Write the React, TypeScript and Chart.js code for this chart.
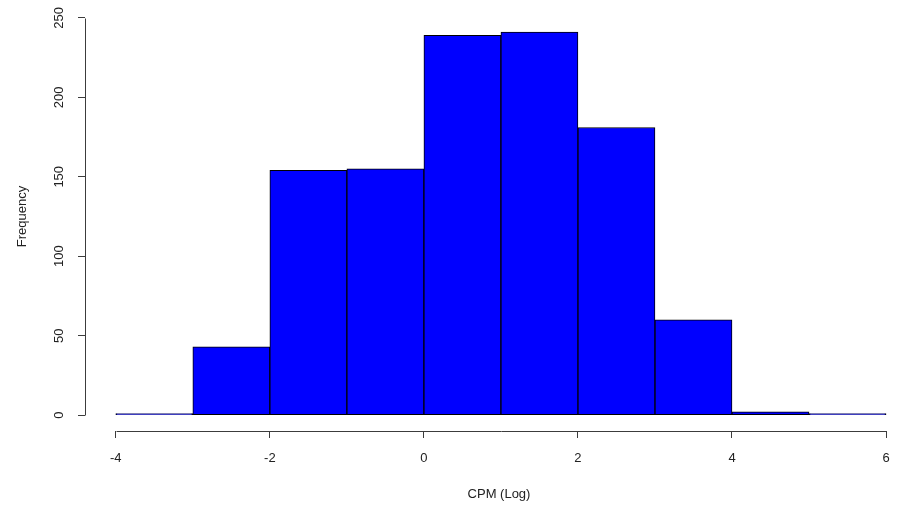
import React, { useEffect, useRef } from 'react';
import { Chart, registerables } from 'chart.js';

Chart.register(...registerables);

// Histogram data (bins of width 1 from -4 to 6)
const binStarts = [-4, -3, -2, -1, 0, 1, 2, 3, 4, 5];
const binWidth = 1;
const frequencies = [1, 43, 154, 155, 239, 241, 181, 60, 2, 1];
const xTickValues = [-4, -2, 0, 2, 4, 6];
const yTickValues = [0, 50, 100, 150, 200, 250];
const xTitle = 'CPM (Log)';
const yTitle = 'Frequency';

const axisColor = '#3c3c3c';
const textColor = '#222222';
const fontFamily = '"Liberation Sans", Arial, sans-serif';

const rAxesPlugin = {
  id: 'rAxes',
  afterDraw(chart: any) {
    const { ctx, chartArea, scales } = chart;
    const xs = scales.x;
    const ys = scales.y;
    ctx.save();
    ctx.strokeStyle = axisColor;
    ctx.lineWidth = 1;
    ctx.beginPath();
    const yb = Math.round(chartArea.bottom) + 0.5;
    ctx.moveTo(Math.round(xs.getPixelForValue(xTickValues[0])) + 0.5, yb);
    ctx.lineTo(Math.round(xs.getPixelForValue(xTickValues[xTickValues.length - 1])) + 0.5, yb);
    const xl = Math.round(chartArea.left) + 0.5;
    ctx.moveTo(xl, Math.round(ys.getPixelForValue(yTickValues[0])) + 0.5);
    ctx.lineTo(xl, Math.round(ys.getPixelForValue(yTickValues[yTickValues.length - 1])) + 0.5);
    ctx.stroke();
    ctx.restore();
  },
};

export default function App() {
  const canvasRef = useRef<HTMLCanvasElement | null>(null);

  useEffect(() => {
    if (!canvasRef.current) return;
    const data = binStarts.map((s, i) => ({ x: s + binWidth / 2, y: frequencies[i] }));
    const chart = new Chart(canvasRef.current, {
      type: 'bar',
      data: {
        datasets: [
          {
            data: data as any,
            backgroundColor: '#0000ff',
            borderColor: '#000000',
            borderWidth: 1,
            borderSkipped: false,
            categoryPercentage: 1,
            barPercentage: 1,
          },
        ],
      },
      plugins: [rAxesPlugin],
      options: {
        animation: false,
        responsive: true,
        maintainAspectRatio: false,
        devicePixelRatio: 1,
        layout: { padding: { top: 2, left: 0, right: 0, bottom: 0 } },
        plugins: {
          legend: { display: false },
          tooltip: { enabled: false },
        },
        scales: {
          x: {
            type: 'linear',
            min: -4.4,
            max: 6.35,
            offset: false,
            afterBuildTicks: (scale: any) => {
              scale.ticks = xTickValues.map((v) => ({ value: v }));
            },
            afterFit: (scale: any) => {
              scale.height = 74;
              scale.paddingLeft = 0;
              scale.paddingRight = 0;
              scale.paddingTop = 0;
              scale.paddingBottom = 0;
            },
            border: { display: false },
            grid: {
              offset: false,
              drawOnChartArea: false,
              drawTicks: true,
              tickLength: 7,
              color: axisColor,
            },
            ticks: {
              autoSkip: false,
              maxRotation: 0,
              minRotation: 0,
              padding: 13,
              color: textColor,
              font: { family: fontFamily, size: 13 },
            },
            title: {
              display: true,
              text: xTitle,
              color: textColor,
              font: { family: fontFamily, size: 13 },
              padding: { top: 0, bottom: 3 },
            },
          },
          y: {
            type: 'linear',
            min: -10,
            max: 260,
            afterBuildTicks: (scale: any) => {
              scale.ticks = yTickValues.map((v) => ({ value: v }));
            },
            afterFit: (scale: any) => {
              scale.width = 85;
              scale.paddingLeft = 0;
              scale.paddingRight = 0;
              scale.paddingTop = 0;
              scale.paddingBottom = 0;
            },
            border: { display: false },
            grid: {
              drawOnChartArea: false,
              drawTicks: true,
              tickLength: 7,
              color: axisColor,
            },
            ticks: {
              autoSkip: false,
              minRotation: 90,
              maxRotation: 90,
              crossAlign: 'center',
              padding: 8,
              color: textColor,
              font: { family: fontFamily, size: 13 },
            },
            title: {
              display: true,
              text: yTitle,
              color: textColor,
              font: { family: fontFamily, size: 13 },
              padding: { top: 15, bottom: 0 },
            },
          },
        },
      },
    });
    return () => chart.destroy();
  }, []);

  return (
    <div style={{ position: 'fixed', left: 0, top: 0, width: 913, height: 505, background: '#ffffff' }}>
      <canvas ref={canvasRef} />
    </div>
  );
}
